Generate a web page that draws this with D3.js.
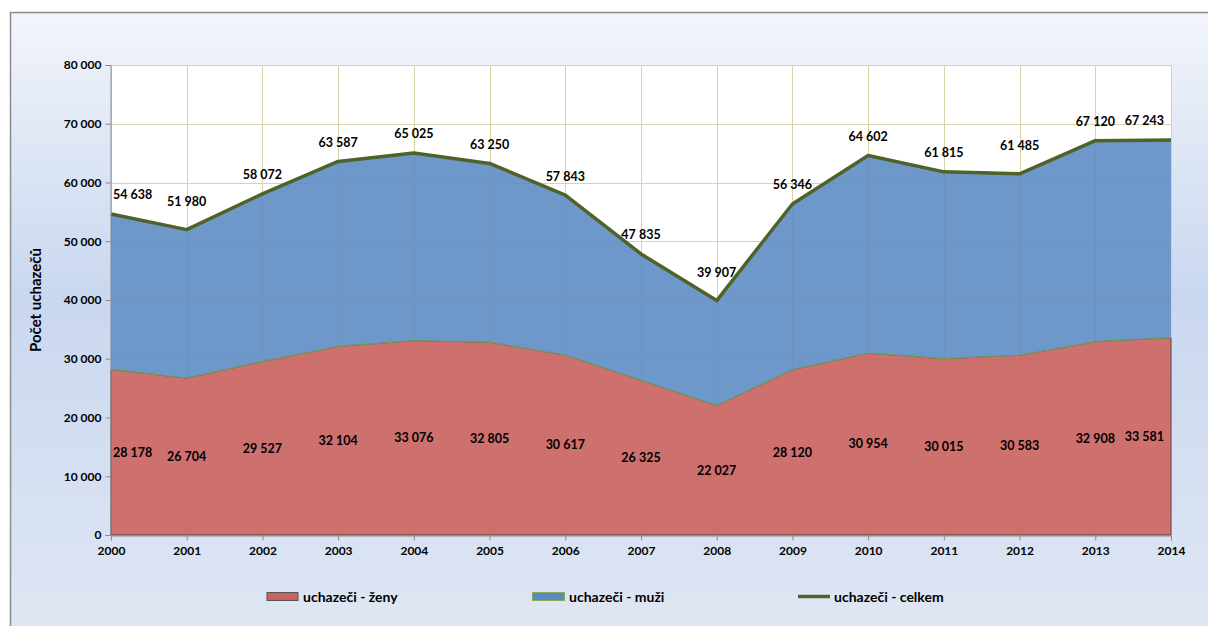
<!DOCTYPE html>
<html><head><meta charset="utf-8">
<script src="https://cdn.jsdelivr.net/npm/d3@7"></script>
<style>html,body{margin:0;padding:0;background:#fff;}svg{display:block;}</style>
</head><body>
<script>
const years = [2000,2001,2002,2003,2004,2005,2006,2007,2008,2009,2010,2011,2012,2013,2014];
const zeny = [28178,26704,29527,32104,33076,32805,30617,26325,22027,28120,30954,30015,30583,32908,33581];
const celkem = [54638,51980,58072,63587,65025,63250,57843,47835,39907,56346,64602,61815,61485,67120,67243];
const yTicks = [0,10000,20000,30000,40000,50000,60000,70000,80000];
const seriesNames = ["uchazeči - ženy","uchazeči - muži","uchazeči - celkem"];
const yTitle = "Počet uchazečů";

const W=1208,H=626;
const svg=d3.select("body").append("svg").attr("width",W).attr("height",H);
const defs=svg.append("defs");
const g1=defs.append("linearGradient").attr("id","bg").attr("x1",0).attr("y1",0).attr("x2",0).attr("y2",1);
g1.append("stop").attr("offset","0%").attr("stop-color","#f2f5fb");
g1.append("stop").attr("offset","45%").attr("stop-color","#c9d7ef");
g1.append("stop").attr("offset","100%").attr("stop-color","#e0e7f4");
svg.append("rect").attr("x",10.5).attr("y",12.5).attr("width",1400).attr("height",626)
  .attr("fill","url(#bg)").attr("stroke","#8c8c8c").attr("stroke-width",1.5);

const x=d3.scaleLinear().domain([2000,2014]).range([111,1171]);
const y=d3.scaleLinear().domain([0,80000]).range([535,65]);
const fmt=v=>d3.format(",")(v).replace(/,/g," ");
const data=years.map((yr,i)=>({yr,z:zeny[i],t:celkem[i],m:celkem[i]-zeny[i]}));

svg.append("rect").attr("x",x(2000)).attr("y",y(80000)).attr("width",x(2014)-x(2000)).attr("height",y(0)-y(80000)).attr("fill","#fff");
const grid=svg.append("g").attr("stroke","#d9d3a6").attr("stroke-width",1);
yTicks.forEach(t=>grid.append("line").attr("x1",x(2000)).attr("x2",x(2014)).attr("y1",Math.round(y(t))+0.5).attr("y2",Math.round(y(t))+0.5));
years.forEach(yr=>grid.append("line").attr("x1",Math.round(x(yr))+0.5).attr("x2",Math.round(x(yr))+0.5).attr("y1",y(80000)).attr("y2",y(0)));

const areaZ=d3.area().x(d=>x(d.yr)).y0(y(0)).y1(d=>y(d.z));
const areaM=d3.area().x(d=>x(d.yr)).y0(d=>y(d.z)).y1(d=>y(d.t));
svg.append("path").datum(data).attr("d",areaZ).attr("fill","#c9615e").attr("fill-opacity",0.9).attr("stroke","#5a4a48").attr("stroke-width",1);
svg.append("path").datum(data).attr("d",areaM).attr("fill","#5a8ac3").attr("fill-opacity",0.88);
svg.append("path").datum(data).attr("d",d3.line().x(d=>x(d.yr)).y(d=>y(d.z))).attr("fill","none").attr("stroke","#7a9a4a").attr("stroke-width",1);
svg.append("path").datum(data).attr("d",d3.line().x(d=>x(d.yr)).y(d=>y(d.t))).attr("fill","none").attr("stroke","#4f6228").attr("stroke-width",3.5).attr("stroke-linejoin","round");

// axes
const ax=svg.append("g").attr("transform",`translate(${x(2000)-0.5},0)`)
  .call(d3.axisLeft(y).tickValues(yTicks).tickSize(5).tickFormat(fmt));
const axb=svg.append("g").attr("transform",`translate(0,${y(0)+0.5})`)
  .call(d3.axisBottom(x).tickValues(years).tickSize(5).tickFormat(d3.format("d")));
[ax,axb].forEach(a=>{a.selectAll("path,line").attr("stroke","#8a8a8a");
  a.selectAll("text").attr("font-family","Lato").attr("font-weight","bold").attr("font-size","12px").attr("fill","#000");});
ax.selectAll("text").attr("dx","-1");
axb.selectAll("text").attr("dy","0.95em");

svg.append("text").attr("transform","translate(41,300) rotate(-90)").attr("text-anchor","middle")
  .attr("font-family","Lato").attr("font-weight","bold").attr("font-size","15px").text(yTitle);

// labels
const lbl=svg.append("g").attr("font-family","Lato").attr("font-weight","bold").attr("font-size","12.5px").attr("fill","#000");
function place(sel,i){
  if(i===0) return sel.attr("text-anchor","start").attr("x",x(years[i])+2);
  if(i===years.length-1) return sel.attr("text-anchor","end").attr("x",x(years[i])-7);
  return sel.attr("text-anchor","middle").attr("x",x(years[i]));
}
data.forEach((d,i)=>{
  const isMin = i>0 && i<data.length-1 && d.t<data[i-1].t && d.t<data[i+1].t;
  place(lbl.append("text"),i).attr("y",y(d.t)-(isMin?28:19)).attr("dy","0.35em").text(fmt(d.t));
  place(lbl.append("text"),i).attr("y",y(d.z/2)).attr("dy","0.35em").text(fmt(d.z));
});

// legend
const lg=svg.append("g").attr("font-family","Lato").attr("font-weight","bold").attr("font-size","14px");
lg.append("rect").attr("x",267).attr("y",592.5).attr("width",31).attr("height",8).attr("fill","#c9615e").attr("stroke","#555").attr("stroke-width",1);
lg.append("text").attr("x",303).attr("y",597).attr("dy","0.35em").text(seriesNames[0]);
lg.append("rect").attr("x",532.5).attr("y",592.5).attr("width",32).attr("height",8).attr("fill","#5a8ac3").attr("stroke","#8aac5a").attr("stroke-width",1);
lg.append("text").attr("x",569).attr("y",597).attr("dy","0.35em").text(seriesNames[1]);
lg.append("line").attr("x1",798).attr("x2",830).attr("y1",596.5).attr("y2",596.5).attr("stroke","#4f6228").attr("stroke-width",3.5);
lg.append("text").attr("x",834).attr("y",597).attr("dy","0.35em").text(seriesNames[2]);
</script>
</body></html>
